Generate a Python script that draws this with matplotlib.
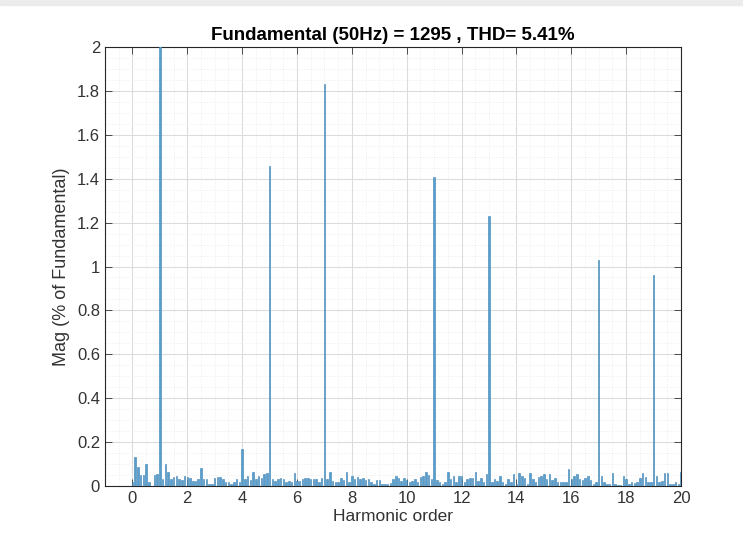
import numpy as np
import matplotlib
matplotlib.use('Agg')
import matplotlib.pyplot as plt
from matplotlib.ticker import MultipleLocator
from matplotlib.patches import Rectangle

plt.rcParams['font.family'] = ['Liberation Sans', 'DejaVu Sans']

# harmonic spectrum, 0.1 harmonic resolution, % of fundamental
harmonic_start = 0.0
harmonic_step = 0.1
mag = [
    # 0.0 - 0.9
    0.02, 0.13, 0.085, 0.05, 0.05, 0.10, 0.02, 0.0, 0.05, 0.055,
    # 1.0 - 1.9
    100.0, 0.032, 0.10, 0.065, 0.032, 0.039, 0.047, 0.032, 0.029, 0.047,
    # 2.0 - 2.9
    0.042, 0.036, 0.024, 0.024, 0.032, 0.08, 0.032, 0.032, 0.009, 0.009,
    # 3.0 - 3.9
    0.035, 0.039, 0.039, 0.032, 0.02, 0.02, 0.009, 0.017, 0.032, 0.02,
    # 4.0 - 4.9
    0.17, 0.032, 0.047, 0.029, 0.065, 0.032, 0.047, 0.035, 0.055, 0.059,
    # 5.0 - 5.9
    1.46, 0.032, 0.024, 0.032, 0.035, 0.032, 0.017, 0.024, 0.02, 0.059,
    # 6.0 - 6.9
    0.024, 0.024, 0.032, 0.035, 0.035, 0.032, 0.032, 0.032, 0.02, 0.035,
    # 7.0 - 7.9
    1.83, 0.032, 0.062, 0.024, 0.017, 0.02, 0.035, 0.029, 0.062, 0.02,
    # 8.0 - 8.9
    0.047, 0.032, 0.039, 0.032, 0.035, 0.029, 0.032, 0.02, 0.009, 0.029,
    # 9.0 - 9.9
    0.029, 0.009, 0.009, 0.009, 0.014, 0.032, 0.047, 0.035, 0.024, 0.035,
    # 10.0 - 10.9
    0.029, 0.017, 0.024, 0.032, 0.02, 0.039, 0.047, 0.062, 0.05, 0.032,
    # 11.0 - 11.9
    1.41, 0.029, 0.017, 0.009, 0.017, 0.065, 0.032, 0.047, 0.02, 0.047,
    # 12.0 - 12.9
    0.047, 0.02, 0.032, 0.035, 0.035, 0.065, 0.024, 0.035, 0.02, 0.055,
    # 13.0 - 13.9
    1.23, 0.017, 0.032, 0.024, 0.047, 0.017, 0.009, 0.032, 0.017, 0.055,
    # 14.0 - 14.9
    0.009, 0.059, 0.047, 0.035, 0.009, 0.059, 0.032, 0.017, 0.039, 0.047,
    # 15.0 - 15.9
    0.055, 0.032, 0.055, 0.029, 0.035, 0.017, 0.017, 0.017, 0.017, 0.077,
    # 16.0 - 16.9
    0.032, 0.047, 0.055, 0.032, 0.029, 0.035, 0.047, 0.029, 0.009, 0.017,
    # 17.0 - 17.9
    1.03, 0.047, 0.017, 0.009, 0.009, 0.059, 0.009, 0.005, 0.005, 0.047,
    # 18.0 - 18.9
    0.03, 0.009, 0.017, 0.014, 0.017, 0.035, 0.059, 0.039, 0.017, 0.017,
    # 19.0 - 19.9
    0.96, 0.047, 0.017, 0.024, 0.059, 0.059, 0.009, 0.009, 0.02, 0.01,
    # 20.0
    0.065,
]
harmonics = harmonic_start + harmonic_step * np.arange(len(mag))

title = 'Fundamental (50Hz) = 1295 , THD= 5.41%'

fig = plt.figure(figsize=(7.43, 5.42), dpi=100)
fig.patches.append(Rectangle((0, 0.99), 1, 0.01, transform=fig.transFigure,
                             color='#ececec', zorder=0))
ax = fig.add_axes([0.1413, 0.1033, 0.7753, 0.81])

ax.bar(harmonics, mag, width=0.055, color='#5a9fcc', edgecolor='#3a82b5',
       linewidth=0.4, zorder=3)

ax.set_xlim(-1, 20)
ax.set_ylim(0, 2)
ax.xaxis.set_major_locator(MultipleLocator(2))
ax.xaxis.set_minor_locator(MultipleLocator(0.5))
ax.yaxis.set_major_locator(MultipleLocator(0.2))
ax.yaxis.set_minor_locator(MultipleLocator(0.05))
ax.yaxis.set_major_formatter(plt.FuncFormatter(lambda v, p: f'{v:g}'))

ax.grid(which='major', color='#dcdcdc', linewidth=0.8, zorder=0)
ax.grid(which='minor', color='#ebebeb', linewidth=0.6, linestyle=':', zorder=0)
ax.set_axisbelow(True)

ax.tick_params(which='major', direction='in', length=5, top=True, right=True,
               labelsize=12, colors='#333333', width=0.6)
ax.tick_params(which='minor', length=0)
for s in ax.spines.values():
    s.set_color('#262626')
    s.set_linewidth(0.8)

ax.set_xlabel('Harmonic order', fontsize=12.5, color='#333333', labelpad=2)
ax.set_ylabel('Mag (% of Fundamental)', fontsize=13, color='#333333', labelpad=5)
ax.set_title(title, fontsize=13.5, fontweight='bold', color='black', pad=5)

fig.savefig('out.png', dpi=100, facecolor='white')
